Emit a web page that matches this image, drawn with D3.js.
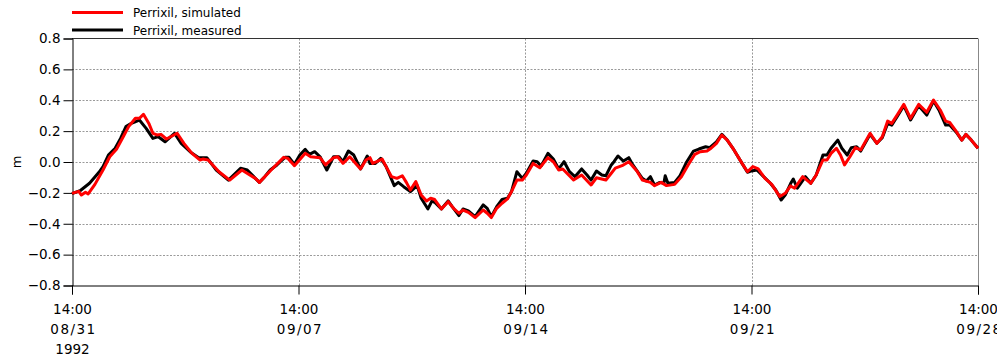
<!DOCTYPE html>
<html>
<head>
<meta charset="utf-8">
<script src="https://cdn.jsdelivr.net/npm/d3@7"></script>
<style>
  html, body { margin: 0; padding: 0; background: #fff; }
  svg { display: block; }
  .tick text { font-family: "DejaVu Sans", sans-serif; }
</style>
</head>
<body>
<svg id="chart" width="997" height="360"></svg>
<script>
// Water level at Perrixil, hours since 1992-08-31 14:00 UTC
const measuredHours = [0, 6, 13, 20, 23, 27, 32, 36, 40, 44, 50, 55, 60, 64, 69, 76, 81, 88, 94, 100,
  107, 116, 125, 130, 136, 139, 143, 147, 152, 158, 161, 165, 169, 173, 176, 180, 184, 189, 194, 198,
  201, 205, 209, 214, 219, 221, 225, 229, 233, 239, 242, 246, 251, 256, 259, 264, 267, 269, 274, 279,
  282, 287, 290, 294, 299, 305, 308, 311, 315, 319, 323, 326, 330, 334, 337, 342, 345, 348, 353, 357,
  361, 365, 369, 373, 378, 382, 385, 389, 393, 396, 400, 402, 405, 409, 413, 416, 423, 426, 429, 432,
  436, 439, 440, 442, 447, 451, 456, 461, 465, 470, 473, 478, 482, 486, 491, 497, 501, 504, 508, 513,
  518, 522, 526, 529, 533, 535, 538, 544, 548, 552, 557, 560, 563, 568, 571, 575, 578, 582, 585, 592,
  597, 601, 605, 608, 612, 617, 622, 628, 634, 639, 643, 648, 651, 656, 660, 663, 667, 672];
const measuredLevel = [-0.205, -0.186, -0.138, -0.067, -0.030, 0.045, 0.089, 0.153, 0.229, 0.250, 0.272, 0.218, 0.153, 0.164, 0.131, 0.186, 0.121, 0.063, 0.028, 0.028,
  -0.052, -0.117, -0.041, -0.052, -0.106, -0.132, -0.095, -0.052, -0.019, 0.030, 0.030, -0.015, 0.045, 0.082, 0.050, 0.067, 0.034, -0.052, 0.034, 0.034,
  0.002, 0.071, 0.045, -0.045, 0.039, -0.009, -0.009, 0.024, -0.030, -0.153, -0.132, -0.160, -0.192, -0.153, -0.235, -0.304, -0.252, -0.261, -0.304, -0.252,
  -0.289, -0.347, -0.304, -0.317, -0.354, -0.278, -0.300, -0.354, -0.289, -0.242, -0.235, -0.192, -0.063, -0.106, -0.073, 0.006, 0.002, -0.026, 0.056, 0.019,
  -0.045, 0.002, -0.063, -0.095, -0.045, -0.084, -0.117, -0.058, -0.084, -0.089, -0.019, 0.002, 0.039, 0.006, 0.028, -0.019, -0.106, -0.123, -0.095, -0.149,
  -0.132, -0.138, -0.089, -0.138, -0.132, -0.089, 0.002, 0.071, 0.084, 0.099, 0.093, 0.131, 0.179, 0.142, 0.078, -0.009, -0.067, -0.058, -0.052, -0.095,
  -0.138, -0.181, -0.246, -0.214, -0.140, -0.110, -0.170, -0.095, -0.138, -0.084, 0.045, 0.045, 0.089, 0.142, 0.089, 0.045, 0.093, 0.099, 0.071, 0.179,
  0.121, 0.157, 0.250, 0.239, 0.293, 0.364, 0.272, 0.364, 0.304, 0.395, 0.337, 0.239, 0.239, 0.192, 0.142, 0.179, 0.142, 0.089];

const simulatedHours = [0, 5, 7, 10, 12, 17, 23, 28, 33, 38, 42, 47, 50, 53, 57, 60, 63, 66, 70, 78,
  83, 89, 95, 97, 101, 109, 117, 126, 136, 139, 147, 157, 160, 165, 173, 177, 184, 188, 194, 197,
  201, 206, 214, 218, 221, 223, 226, 230, 233, 237, 241, 245, 248, 251, 255, 259, 263, 266, 269, 274,
  279, 283, 287, 290, 294, 299, 305, 308, 311, 315, 319, 323, 326, 330, 334, 337, 342, 347, 353, 357,
  361, 364, 372, 378, 385, 389, 396, 400, 403, 408, 413, 419, 423, 429, 432, 437, 441, 447, 452, 457,
  462, 466, 471, 474, 478, 482, 486, 491, 497, 501, 505, 509, 514, 519, 525, 529, 533, 536, 542, 548,
  552, 557, 560, 563, 567, 570, 573, 577, 581, 585, 592, 597, 601, 605, 608, 612, 617, 622, 628, 634,
  639, 644, 648, 651, 656, 660, 663, 667, 672];
const simulatedLevel = [-0.203, -0.190, -0.214, -0.196, -0.207, -0.145, -0.052, 0.034, 0.082, 0.164, 0.229, 0.283, 0.283, 0.309, 0.250, 0.186, 0.175, 0.179, 0.149, 0.186,
  0.121, 0.056, 0.013, 0.019, 0.013, -0.063, -0.117, -0.052, -0.106, -0.132, -0.058, 0.030, 0.024, -0.024, 0.056, 0.034, 0.028, -0.019, 0.028, 0.034,
  -0.009, 0.034, -0.045, 0.013, 0.028, -0.009, 0.002, 0.019, -0.030, -0.095, -0.106, -0.089, -0.132, -0.181, -0.127, -0.214, -0.252, -0.235, -0.243, -0.304,
  -0.257, -0.300, -0.332, -0.311, -0.326, -0.360, -0.311, -0.332, -0.360, -0.300, -0.267, -0.239, -0.192, -0.117, -0.117, -0.084, -0.009, -0.037, 0.028, 0.002,
  -0.052, -0.045, -0.117, -0.084, -0.149, -0.102, -0.117, -0.073, -0.040, -0.024, 0.002, -0.058, -0.117, -0.132, -0.153, -0.132, -0.153, -0.145, -0.095, -0.019,
  0.050, 0.067, 0.071, 0.089, 0.121, 0.175, 0.142, 0.078, -0.009, -0.063, -0.030, -0.045, -0.106, -0.145, -0.224, -0.203, -0.155, -0.170, -0.095, -0.138,
  -0.084, 0.013, 0.013, 0.056, 0.089, 0.045, -0.019, 0.034, 0.093, 0.078, 0.186, 0.121, 0.164, 0.265, 0.250, 0.304, 0.373, 0.283, 0.373, 0.322,
  0.401, 0.337, 0.265, 0.257, 0.196, 0.142, 0.179, 0.142, 0.089];

const yTicks = [-0.8, -0.6, -0.4, -0.2, 0.0, 0.2, 0.4, 0.6, 0.8];
const tickDays = [0, 7, 14, 21, 28];
const seriesNames = ["Perrixil, simulated", "Perrixil, measured"];
const seriesColors = ["#ff0000", "#000000"];
const yLabel = "m";

const start = new Date(Date.UTC(1992, 7, 31, 14, 0));
const hourMs = 3600 * 1000;
const toDate = h => new Date(start.getTime() + h * hourMs);

const svg = d3.select("#chart");
const plotLeft = 72, plotRight = 978, plotTop = 38.5, plotBottom = 285.5;

const x = d3.scaleUtc().domain([start, toDate(28 * 24)]).range([plotLeft, plotRight]);
const y = d3.scaleLinear().domain([-0.8, 0.8]).range([plotBottom, plotTop]);

// grid
const grid = svg.append("g");
grid.selectAll("line.h").data(yTicks.slice(1, -1)).join("line")
  .attr("x1", plotLeft).attr("x2", plotRight)
  .attr("y1", d => Math.round(y(d)) + 0.5).attr("y2", d => Math.round(y(d)) + 0.5)
  .attr("stroke", "#9a9a9a").attr("stroke-width", 1).attr("stroke-dasharray", "2,1.5");
grid.selectAll("line.v").data(tickDays.slice(1, -1)).join("line")
  .attr("x1", d => Math.round(x(toDate(d * 24))) + 0.5).attr("x2", d => Math.round(x(toDate(d * 24))) + 0.5)
  .attr("y1", plotTop).attr("y2", plotBottom)
  .attr("stroke", "#9a9a9a").attr("stroke-width", 1).attr("stroke-dasharray", "2,1.5");

// frame: top and right
svg.append("line").attr("x1", plotLeft).attr("x2", plotRight).attr("y1", plotTop).attr("y2", plotTop)
  .attr("stroke", "#333").attr("stroke-width", 1);
svg.append("line").attr("x1", plotRight + 0.5).attr("x2", plotRight + 0.5).attr("y1", plotTop).attr("y2", plotBottom)
  .attr("stroke", "#888").attr("stroke-width", 1);

// axes
const yAxis = svg.append("g").attr("transform", `translate(${plotLeft + 0.5},0)`)
  .call(d3.axisLeft(y).tickValues(yTicks).tickSize(9).tickPadding(3).tickFormat(d3.format(".1f")));
yAxis.selectAll("text").attr("font-size", 13.5).attr("fill", "#000");
yAxis.selectAll("line, path").attr("stroke", "#000");

const xAxis = svg.append("g").attr("transform", `translate(0,${plotBottom})`)
  .call(d3.axisBottom(x).tickValues(tickDays.map(d => toDate(d * 24))).tickSize(9).tickFormat(""));
xAxis.selectAll("line, path").attr("stroke", "#000");
xAxis.selectAll(".tick").each(function(d, i) {
  const t = d3.select(this).append("text")
    .attr("fill", "#000").attr("font-size", 13.5).attr("text-anchor", "middle");
  t.append("tspan").attr("x", 0).attr("y", 28).text(d3.utcFormat("%H:%M")(d));
  t.append("tspan").attr("x", 0).attr("dx", 1).attr("y", 48)
    .attr("letter-spacing", 1.5).text(d3.utcFormat("%m/%d")(d));
  if (i === 0) t.append("tspan").attr("x", 0).attr("y", 68).text(d3.utcFormat("%Y")(d));
});

// y label
svg.append("text").attr("transform", `translate(21,${y(0)}) rotate(-90)`)
  .attr("text-anchor", "middle").attr("font-family", "DejaVu Sans, sans-serif")
  .attr("font-size", 13).text(yLabel);

// series
const line = d3.line().x(d => x(toDate(d[0]))).y(d => y(d[1]));
const measured = measuredHours.map((h, i) => [h, measuredLevel[i]]);
const simulated = simulatedHours.map((h, i) => [h, simulatedLevel[i]]);

svg.append("path").datum(measured).attr("d", line)
  .attr("fill", "none").attr("stroke", seriesColors[1]).attr("stroke-width", 3)
  .attr("stroke-linejoin", "round");
svg.append("path").datum(simulated).attr("d", line)
  .attr("fill", "none").attr("stroke", seriesColors[0]).attr("stroke-width", 3)
  .attr("stroke-linejoin", "round");

// legend
const legend = svg.append("g");
seriesNames.forEach((name, i) => {
  const ly = 12.5 + i * 17.5;
  legend.append("line").attr("x1", 72).attr("x2", 123).attr("y1", ly).attr("y2", ly)
    .attr("stroke", seriesColors[i]).attr("stroke-width", 3);
  legend.append("text").attr("x", 133).attr("y", ly + 4.5)
    .attr("font-family", "DejaVu Sans, sans-serif").attr("font-size", 12)
    .attr("fill", "#000").text(name);
});
</script>
</body>
</html>
